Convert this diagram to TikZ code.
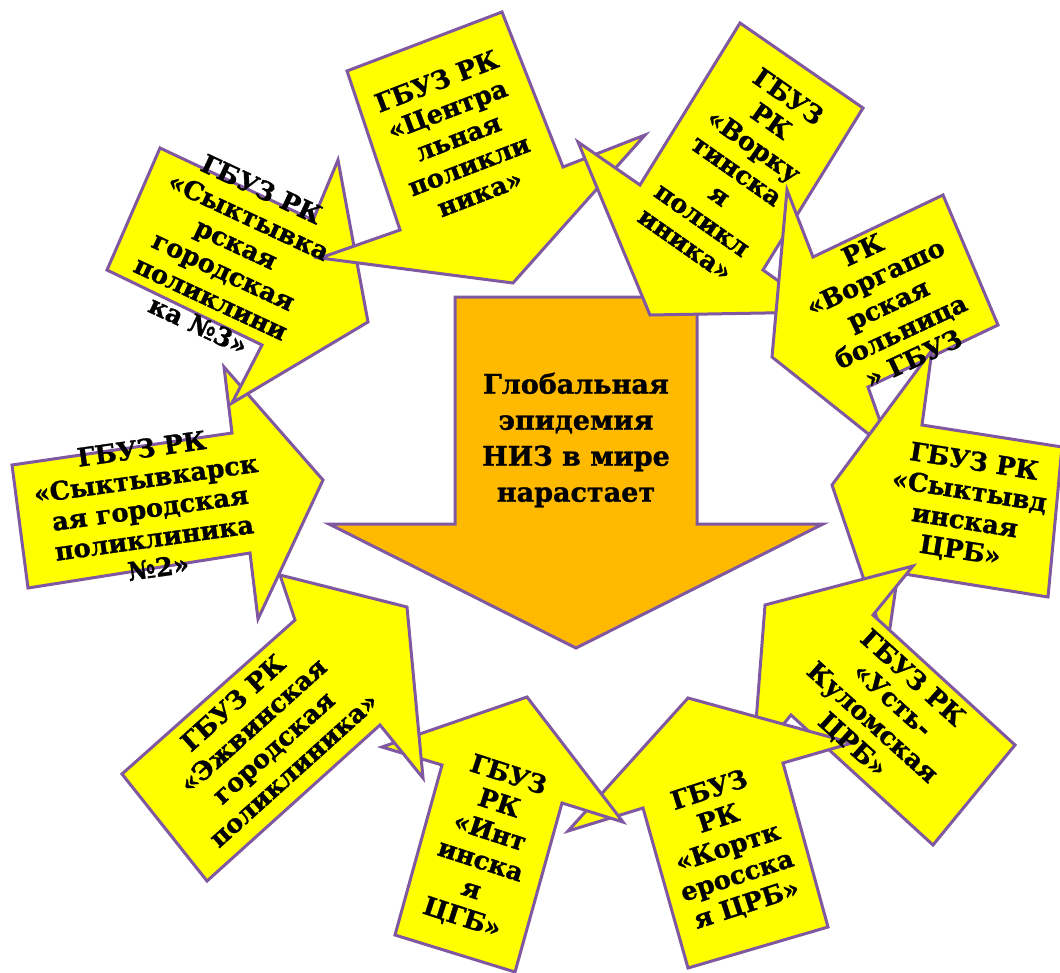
\documentclass[tikz,border=0pt]{standalone}
\usepackage{fontspec}
\setmainfont{DejaVu Serif}
\newfontfamily\heavyfont{DejaVu Serif Bold}[FakeBold=1.2]
\definecolor{pline}{RGB}{128,88,162}
\definecolor{yfill}{RGB}{255,255,0}
\definecolor{ofill}{RGB}{255,186,0}
\begin{document}
\begin{tikzpicture}[x=1pt,y=-1pt,
  ybox/.style={fill=yfill, draw=pline, line width=3pt, line join=miter},
  obox/.style={fill=ofill, draw=pline, line width=3pt, line join=miter},
  txt/.style={align=center, inner sep=0pt, text=black, font=\heavyfont\fontsize{25.5}{30}\selectfont},
  ctxt/.style={align=center, inner sep=0pt, text=black, font=\heavyfont\fontsize{27}{36}\selectfont}]
\useasboundingbox (0,0) rectangle (1060,972);
\fill[white] (0,0) rectangle (1060,972);
% central arrow
\draw[obox] (455,297) -- (697,297) -- (697,524) -- (823,524) -- (576,648) -- (329,524) -- (455,524) -- cycle;
% E: Syktyvkar No2
\draw[ybox] (12,465) -- (232,433) -- (224,367) -- (323,480) -- (258,619) -- (250,553) -- (28,588) -- cycle;
% D: Syktyvkar No3
\draw[ybox] (160,148) -- (313,220) -- (338,160) -- (368,322) -- (232,403) -- (262,345) -- (107,270) -- cycle;
% A: Central
\draw[ybox] (347,71) -- (502,12) -- (563,167) -- (645,135) -- (513,283) -- (320,258) -- (400,230) -- cycle;
% B: Vorkuta
\draw[ybox] (740,23) -- (863,108) -- (763,270) -- (822,312) -- (650,315) -- (578,142) -- (640,185) -- cycle;
% C: Vorgashor
\draw[ybox] (813,257) -- (943,195) -- (998,325) -- (868,387) -- (891,452) -- (772,357) -- (787,190) -- cycle;
% J: Syktyvdin
\draw[ybox] (922,425) -- (1062,447) -- (1048,597) -- (898,573) -- (887,648) -- (832,485) -- (932,350) -- cycle;
% I: Ust-Kulom
\draw[ybox] (873,615) -- (1015,745) -- (933,845) -- (791,715) -- (753,761) -- (765,605) -- (913,566) -- cycle;
% H: Kortkeros
\draw[ybox] (643,808) -- (568,831) -- (688,698) -- (852,743) -- (783,763) -- (828,927) -- (688,968) -- cycle;
% G: Inta
\draw[ybox] (442,765) -- (382,747) -- (527,697) -- (623,822) -- (562,803) -- (515,972) -- (395,935) -- cycle;
% F: Ezhva
\draw[ybox] (122,774) -- (295,620) -- (280,575) -- (407,607) -- (423,778) -- (380,725) -- (207,881) -- cycle;
% texts
\node[ctxt] (center) at (576,440) {Глобальная\\эпидемия\\НИЗ в мире\\нарастает};
\node[txt, rotate=21] (tA) at (458,137) {ГБУЗ РК\\«Центра\\льная\\поликли\\ника»};
\node[txt, rotate=-35] (tB) at (737,170) {ГБУЗ\\РК\\«Ворку\\тинска\\я\\поликл\\иника»};
\node[txt, rotate=25] (tC) at (888,304) {РК\\«Воргашо\\рская\\больница\\» ГБУЗ};
\node[txt, rotate=-25] (tD) at (230,257) {ГБУЗ РК\\«Сыктывка\\рская\\городская\\поликлини\\ка №3»};
\node[txt, rotate=8] (tE) at (150,508) {ГБУЗ РК\\«Сыктывкарск\\ая городская\\поликлиника\\№2»};
\node[txt, rotate=42] (tF) at (263,736) {ГБУЗ РК\\«Эжвинская\\городская\\поликлиника»};
\node[txt, rotate=-18] (tG) at (485,847) {ГБУЗ\\РК\\«Инт\\инска\\я\\ЦГБ»};
\node[txt, rotate=18] (tH) at (728,848) {ГБУЗ\\РК\\«Кортк\\еросска\\я ЦРБ»};
\node[txt, rotate=-42] (tI) at (882,712) {ГБУЗ РК\\«Усть-\\Куломская\\ЦРБ»};
\node[txt, rotate=-9] (tJ) at (967,507) {ГБУЗ РК\\«Сыктывд\\инская\\ЦРБ»};
\end{tikzpicture}
\end{document}
